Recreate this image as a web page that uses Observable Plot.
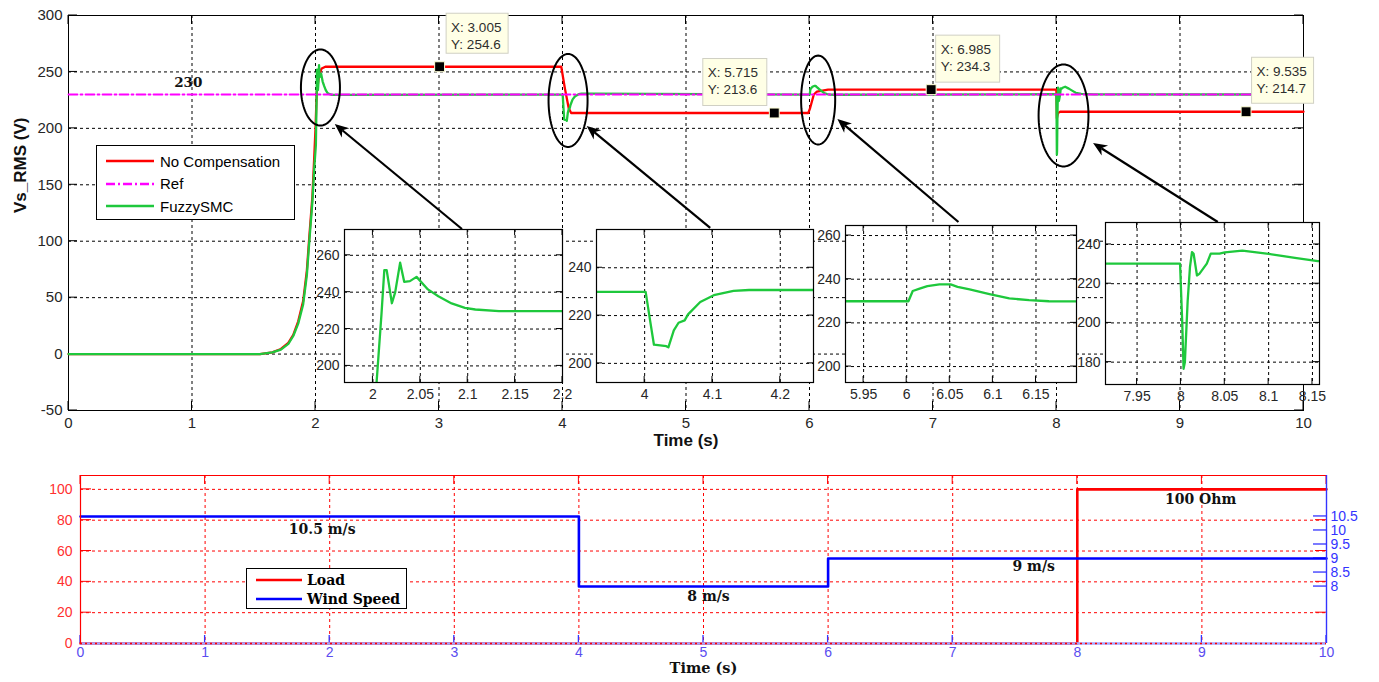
<!DOCTYPE html>
<html><head><meta charset="utf-8">
<script src="https://cdn.jsdelivr.net/npm/d3@7"></script>
<script src="https://cdn.jsdelivr.net/npm/@observablehq/plot@0.6"></script>
<style>
body{margin:0;background:#fff;}
#wrap{position:relative;width:1379px;height:682px;overflow:hidden;background:#fff;}
.leg{position:absolute;background:#fff;border:1px solid #000;box-sizing:border-box;}
.leg .row{position:absolute;display:flex;align-items:center;height:20px;white-space:nowrap;}
</style></head><body><div id="wrap"></div><script>
// ---------------- DATA ----------------
const mainXTicks = [0,1,2,3,4,5,6,7,8,9,10];
const mainYTicks = [-50,0,50,100,150,200,250,300];
const seriesNames = ["No Compensation","Ref","FuzzySMC"];

const noCompT = [0,1.55,1.65,1.72,1.78,1.82,1.86,1.9,1.93,1.95,1.975,1.99,2.0,2.01,2.03,2.05,2.08,3.99,4.02,4.05,4.07,5.99,6.005,6.035,6.06,6.15,7.999,8.003,8.012,8.03,10];
const noCompV = [0,0,1.5,4.5,10,17,29,47,74,104,140,175,200,232,248,253,254.6,254.6,235,218,213.6,213.6,218,230,232.5,234.3,234.3,209,213.5,214.7,214.7];

const refT = [0,10];
const refV = [230,230];

const fuzzyT = [0,1.55,1.65,1.72,1.78,1.82,1.86,1.9,1.93,1.95,1.975,1.99,2.003,2.009,2.012,2.0145,2.02,2.0235,2.0287,2.033,2.039,2.046,2.058,2.069,2.083,2.097,2.108,2.133,2.2,
  3.95,4.0015,4.008,4.0137,4.032,4.035,4.043,4.05,4.059,4.064,4.082,4.102,4.131,4.154,4.25,
  5.95,6.002,6.007,6.015,6.024,6.038,6.051,6.059,6.073,6.096,6.119,6.142,6.165,6.2,
  7.95,7.999,8.0015,8.003,8.0045,8.0077,8.0103,8.0126,8.0145,8.0183,8.021,8.0295,8.034,8.044,8.05,8.07,8.1,8.13,8.156,8.2,8.3,10];
const fuzzyV = [0,0,1.5,4,9,16,27,44,70,100,135,165,185,228,252,252,234,240,256,245.6,246,248.3,241.5,237.8,233.9,231.5,230.6,229.7,229.7,
  229.9,229.9,218,207.8,207.2,206.7,213.8,217,218,220.5,225.7,228.5,230.3,230.7,230.7,
  229.9,229.9,234.6,235.7,236.8,237.6,237.6,236.5,235.3,233.2,231.2,230.4,229.9,229.8,
  230.2,230.2,200,176.6,180,211.4,228.4,236.1,235.2,224.2,225,230.2,235.3,235.3,236,236.9,235.2,233.2,231.5,230.6,230.1,230];

const refLabelText = ["230"];
const refLabelT = [0.97];
const refLabelV = [240.6];

const tipT = [3.005,5.715,6.985,9.535];
const tipV = [254.6,213.6,234.3,214.7];

const ellT = [2.04,4.045,6.07,8.057];
const ellV = [236.2,224.7,225.1,211.4];
const ellRT = [0.158,0.158,0.138,0.202];
const ellRV = [33.7,41.2,39.4,45.2];

const arrowFromT = [3.19,5.2,7.21,9.31];
const arrowFromV = [110.4,111.3,116.6,116.6];
const arrowToT = [2.16,4.2,6.23,8.3];
const arrowToV = [203.4,201.7,207.8,186.6];

// insets (zooms of the FuzzySMC series)
const inset1XTicks = [2,2.05,2.1,2.15,2.2], inset1YTicks = [200,220,240,260];
const inset2XTicks = [4,4.1,4.2], inset2YTicks = [200,220,240];
const inset3XTicks = [5.95,6,6.05,6.1,6.15], inset3YTicks = [200,220,240,260];
const inset4XTicks = [7.95,8,8.05,8.1,8.15], inset4YTicks = [180,200,220,240];
const inset1XDomain = [1.97,2.2], inset1YDomain = [191,274];
const inset2XDomain = [3.929,4.249], inset2YDomain = [192,256];
const inset3XDomain = [5.929,6.197], inset3YDomain = [192.7,264.6];
const inset4XDomain = [7.914,8.158], inset4YDomain = [168.6,251.2];

// bottom chart
const bottomXTicks = [0,1,2,3,4,5,6,7,8,9,10];
const loadTicks = [0,20,40,60,80,100];
const loadDomain = [0,109];
const windTicks = [8,8.5,9,9.5,10,10.5];
const windDomain = [5.97,11.96];
const loadT = [0,8,10];
const loadV = [0,100,100];
const windT = [0,4,6,10];
const windV = [10.5,8,9,9];
const bottomSeries = ["Load","Wind Speed"];
const noteText = ["10.5 m/s","8 m/s","9 m/s","100 Ohm"];
const noteT = [1.94,5.04,7.65,8.99];
const noteV = [74,30.5,50,93.5];

// ---------------- STYLE ----------------
const SANS = "'Liberation Sans', Arial, sans-serif";
const SERIF = "'DejaVu Serif', serif";
const RED = "#ff0000", GREEN = "#1ec83c", MAGENTA = "#ff00ff", BLUE = "#0000ff";
const idx = n => d3.range(n);
const plain = d => String(+(+d).toFixed(3));
const wrap = document.getElementById("wrap");

function innerTicks(specs) {
  return (index, scales, values, dims) => {
    const g = d3.create("svg:g");
    const L = dims.marginLeft, R = dims.width - dims.marginRight, T = dims.marginTop, B = dims.height - dims.marginBottom;
    for (const s of specs) {
      for (const v of s.values) {
        for (const side of s.sides) {
          let x1, y1, x2, y2;
          if (s.axis === "x") {
            const p = scales.x(v); x1 = x2 = p;
            if (side === "bottom") { y1 = B; y2 = B - s.len; } else { y1 = T; y2 = T + s.len; }
          } else {
            const p = scales.y(s.map ? s.map(v) : v); y1 = y2 = p;
            if (side === "left") { x1 = L; x2 = L + s.len; } else { x1 = R; x2 = R - s.len; }
          }
          g.append("line").attr("x1", x1).attr("x2", x2).attr("y1", y1).attr("y2", y2)
            .attr("stroke", s.stroke).attr("stroke-width", s.width || 1);
        }
      }
    }
    return g.node();
  };
}

const tipBoxes = [{dx:7,dy:-53,w:62,h:40},{dx:-71,dy:-54,w:64,h:47},{dx:5,dy:-54,w:64,h:47},{dx:6,dy:-54,w:62,h:46}];
const tipsMark = (index, scales) => {
  const g = d3.create("svg:g");
  tipT.forEach((t, i) => {
    const px = scales.x(t), py = scales.y(tipV[i]);
    const b = tipBoxes[i];
    const x0 = px + b.dx, y0 = py + b.dy;
    g.append("rect").attr("x", x0).attr("y", y0).attr("width", b.w).attr("height", b.h)
      .attr("fill", "#ffffe6").attr("stroke", "#d0d0c4");
    const tx = g.append("g").attr("font-family", SANS).attr("font-size", 13.5).attr("fill", "#2e2e2e").attr("text-anchor", "start");
    tx.append("text").attr("x", x0 + 5).attr("y", y0 + 14).attr("dy", "0.35em").text("X: " + t);
    tx.append("text").attr("x", x0 + 5).attr("y", y0 + 31).attr("dy", "0.35em").text("Y: " + tipV[i]);
  });
  return g.node();
};

const arrowsMark = (index, scales) => {
  const g = d3.create("svg:g");
  arrowFromT.forEach((t, i) => {
    const x1 = scales.x(t), y1 = scales.y(arrowFromV[i]);
    const x2 = scales.x(arrowToT[i]), y2 = scales.y(arrowToV[i]);
    const a = Math.atan2(y2 - y1, x2 - x1), c = Math.cos(a), s = Math.sin(a);
    const L = 14, Wd = 6;
    const bx = x2 - L * c, by = y2 - L * s;
    const nx = x2 - L * 0.7 * c, ny = y2 - L * 0.7 * s;
    g.append("line").attr("x1", x1).attr("y1", y1).attr("x2", nx).attr("y2", ny)
      .attr("stroke", "#000").attr("stroke-width", 2.2);
    g.append("path").attr("d", `M${x2},${y2}L${bx - Wd * s},${by + Wd * c}L${nx},${ny}L${bx + Wd * s},${by - Wd * c}Z`)
      .attr("fill", "#000");
  });
  return g.node();
};

const ellipsePts = ellT.flatMap((t, k) => d3.range(0, 97).map(j => {
  const a = j / 96 * 2 * Math.PI;
  return {k, t: t + ellRT[k] * Math.cos(a), v: ellV[k] + ellRV[k] * Math.sin(a)};
}));

// ---------------- MAIN PLOT ----------------
const mainPlot = Plot.plot({
  width: 1379, height: 460, marginLeft: 68, marginRight: 76, marginTop: 15, marginBottom: 50,
  x: {domain: [0, 10]}, y: {domain: [-50, 300]},
  style: {fontFamily: SANS, fontSize: "15px", background: "transparent", overflow: "visible", color: "#262626"},
  marks: [
    Plot.ruleX(mainXTicks, {stroke: "#000", strokeDasharray: "3,3", strokeWidth: 1}),
    Plot.ruleY(mainYTicks, {stroke: "#000", strokeDasharray: "3,3", strokeWidth: 1}),
    innerTicks([{axis: "x", values: mainXTicks, sides: ["bottom", "top"], len: 9, stroke: "#000"},
                {axis: "y", values: mainYTicks, sides: ["left", "right"], len: 9, stroke: "#000"}]),
    Plot.frame({stroke: "#000", strokeWidth: 1}),
    Plot.line(idx(noCompT.length), {x: i => noCompT[i], y: i => noCompV[i], stroke: RED, strokeWidth: 2.3}),
    Plot.line(idx(fuzzyT.length), {x: i => fuzzyT[i], y: i => fuzzyV[i], stroke: GREEN, strokeWidth: 2.3}),
    Plot.line(idx(refT.length), {x: i => refT[i], y: i => refV[i], stroke: MAGENTA, strokeWidth: 1.8, strokeDasharray: "9,3,2,3"}),
    Plot.axisX(mainXTicks, {tickSize: 0, tickPadding: 7, fontSize: 15, tickFormat: plain, label: null}),
    Plot.axisY(mainYTicks, {tickSize: 0, tickPadding: 6, fontSize: 15, tickFormat: plain, label: null}),
    Plot.text(["Vs_RMS (V)"], {frameAnchor: "left", dx: -48, rotate: -90, fontWeight: "bold", fontSize: 17, fill: "#111"}),
    Plot.text(["Time (s)"], {frameAnchor: "bottom", dy: 35, fontWeight: "bold", fontSize: 17, fill: "#111"}),
    Plot.text(idx(refLabelText.length), {x: i => refLabelT[i], y: i => refLabelV[i], text: i => refLabelText[i], fontFamily: SERIF, fontWeight: "bold", fontSize: 13.5, fill: "#111"}),
    Plot.line(ellipsePts, {x: "t", y: "v", z: "k", stroke: "#000", strokeWidth: 2, curve: "linear"}),
    arrowsMark,
    Plot.dot(idx(tipT.length), {x: i => tipT[i], y: i => tipV[i], symbol: "square", r: 5.6, fill: "#000", stroke: "#ffffd8", strokeWidth: 1}),
    tipsMark
  ]
});
mainPlot.style.position = "absolute"; mainPlot.style.left = "0px"; mainPlot.style.top = "0px";
wrap.appendChild(mainPlot);

// ---------------- INSETS ----------------
function inset(cfg) {
  const mL = 42, mR = 12, mT = 8, mB = 28;
  const svg = Plot.plot({
    width: cfg.w + mL + mR, height: cfg.h + mT + mB, marginLeft: mL, marginRight: mR, marginTop: mT, marginBottom: mB,
    x: {domain: cfg.xDomain}, y: {domain: cfg.yDomain},
    style: {fontFamily: SANS, fontSize: "14px", background: "transparent", overflow: "visible", color: "#262626"},
    marks: [
      Plot.frame({fill: "#fff", stroke: "none"}),
      Plot.ruleX(cfg.xTicks, {stroke: "#000", strokeDasharray: "3,3"}),
      Plot.ruleY(cfg.yTicks, {stroke: "#000", strokeDasharray: "3,3"}),
      innerTicks([{axis: "x", values: cfg.xTicks, sides: ["bottom", "top"], len: 6, stroke: "#000"},
                  {axis: "y", values: cfg.yTicks, sides: ["left", "right"], len: 6, stroke: "#000"}]),
      Plot.line(idx(fuzzyT.length), {x: i => fuzzyT[i], y: i => fuzzyV[i], stroke: GREEN, strokeWidth: 2.3, clip: true}),
      Plot.frame({stroke: "#000", strokeWidth: 1.2}),
      Plot.axisX(cfg.xTicks, {tickSize: 0, tickPadding: 7, fontSize: 14, tickFormat: plain, label: null}),
      Plot.axisY(cfg.yTicks, {tickSize: 0, tickPadding: 5, fontSize: 14, tickFormat: plain, label: null})
    ]
  });
  svg.style.position = "absolute";
  svg.style.left = (cfg.left - mL) + "px";
  svg.style.top = (cfg.top - mT) + "px";
  wrap.appendChild(svg);
}
inset({left: 344, top: 229, w: 218, h: 153, xDomain: inset1XDomain, yDomain: inset1YDomain, xTicks: inset1XTicks, yTicks: inset1YTicks});
inset({left: 596, top: 229, w: 217, h: 153, xDomain: inset2XDomain, yDomain: inset2YDomain, xTicks: inset2XTicks, yTicks: inset2YTicks});
inset({left: 845, top: 225, w: 231, h: 157, xDomain: inset3XDomain, yDomain: inset3YDomain, xTicks: inset3XTicks, yTicks: inset3YTicks});
inset({left: 1105, top: 222, w: 214, h: 162, xDomain: inset4XDomain, yDomain: inset4YDomain, xTicks: inset4XTicks, yTicks: inset4YTicks});

// ---------------- BOTTOM PLOT ----------------
const windToLoad = d3.scaleLinear().domain(windDomain).range(loadDomain);
const windLabel = d => String(+windToLoad.invert(d).toFixed(1));
const bottomPlot = Plot.plot({
  width: 1379, height: 222, marginLeft: 80, marginRight: 53, marginTop: 15, marginBottom: 39,
  x: {domain: [0, 10]}, y: {domain: loadDomain},
  style: {fontFamily: SANS, fontSize: "14px", background: "transparent", overflow: "visible"},
  marks: [
    Plot.ruleX(bottomXTicks.filter(v => v > 0 && v < 10), {stroke: RED, strokeDasharray: "3,3"}),
    Plot.ruleY(loadTicks.filter(v => v > 0), {stroke: RED, strokeDasharray: "3,3"}),
    innerTicks([{axis: "x", values: bottomXTicks, sides: ["bottom"], len: 8, stroke: "#3333ff", width: 1.3},
                {axis: "x", values: bottomXTicks, sides: ["top"], len: 9, stroke: RED},
                {axis: "y", values: loadTicks, sides: ["left", "right"], len: 11, stroke: RED},
                {axis: "y", values: windTicks, map: windToLoad, sides: ["right"], len: 13, stroke: "#3333ff", width: 1.3}]),
    Plot.line(idx(loadT.length), {x: i => loadT[i], y: i => loadV[i], curve: "step-after", stroke: RED, strokeWidth: 2.6}),
    Plot.ruleY([0], {stroke: "#a4a4ff", strokeWidth: 2.6}),
    Plot.ruleY([0], {stroke: RED, strokeWidth: 1.4, strokeDasharray: "2,3"}),
    Plot.line(idx(windT.length), {x: i => windT[i], y: i => windToLoad(windV[i]), curve: "step-after", stroke: BLUE, strokeWidth: 2.6}),
    Plot.ruleX([0], {stroke: RED, strokeWidth: 1.2}),
    Plot.ruleY([loadDomain[1]], {stroke: RED, strokeWidth: 1.2}),
    Plot.ruleX([10], {stroke: "#3333ff", strokeWidth: 1.4}),
    Plot.axisX(bottomXTicks, {tickSize: 0, tickPadding: 4, fontSize: 14, color: "#5a4cf0", tickFormat: plain, label: null}),
    Plot.axisY(loadTicks, {anchor: "left", tickSize: 0, tickPadding: 8, fontSize: 14, color: "#ff3030", tickFormat: plain, label: null}),
    Plot.axisY(windTicks.map(windToLoad), {anchor: "right", tickSize: 0, tickPadding: 4, fontSize: 14, color: "#3333ff", tickFormat: windLabel, label: null}),
    Plot.text(idx(noteText.length), {x: i => noteT[i], y: i => noteV[i], text: i => noteText[i], fontFamily: SERIF, fontWeight: "bold", fontSize: 14, fill: "#111"}),
    Plot.text(["Time (s)"], {frameAnchor: "bottom", dy: 29, fontFamily: SERIF, fontWeight: "bold", fontSize: 14.5, fill: "#111"})
  ]
});
bottomPlot.style.position = "absolute"; bottomPlot.style.left = "0px"; bottomPlot.style.top = "460px";
wrap.appendChild(bottomPlot);

// ---------------- LEGENDS ----------------
function legend({left, top, w, h, rows, lineX, lineLen, textX, font}) {
  const box = document.createElement("div");
  box.className = "leg";
  Object.assign(box.style, {left: left + "px", top: top + "px", width: w + "px", height: h + "px"});
  rows.forEach(r => {
    const row = document.createElement("div");
    row.className = "row";
    Object.assign(row.style, {left: lineX + "px", top: (r.cy - 10) + "px"});
    row.innerHTML = `<svg width="${lineLen}" height="8" style="display:block"><line x1="0" x2="${lineLen}" y1="4" y2="4" stroke="${r.color}" stroke-width="2.5" ${r.dash ? `stroke-dasharray="${r.dash}"` : ""}/></svg>`
      + `<span style="margin-left:${textX - lineX - lineLen}px;font:${font};color:#000">${r.label}</span>`;
    box.appendChild(row);
  });
  wrap.appendChild(box);
}
legend({left: 96, top: 145, w: 199, h: 75, lineX: 9, lineLen: 48, textX: 63, font: "15px " + SANS,
  rows: [{cy: 15, color: RED, label: seriesNames[0]}, {cy: 37.5, color: MAGENTA, dash: "9,3,2,3", label: seriesNames[1]}, {cy: 60, color: GREEN, label: seriesNames[2]}]});
legend({left: 246, top: 568, w: 161, h: 41, lineX: 9, lineLen: 46, textX: 60, font: "bold 14px " + SERIF,
  rows: [{cy: 11, color: RED, label: bottomSeries[0]}, {cy: 29.5, color: BLUE, label: bottomSeries[1]}]});
</script></body></html>
